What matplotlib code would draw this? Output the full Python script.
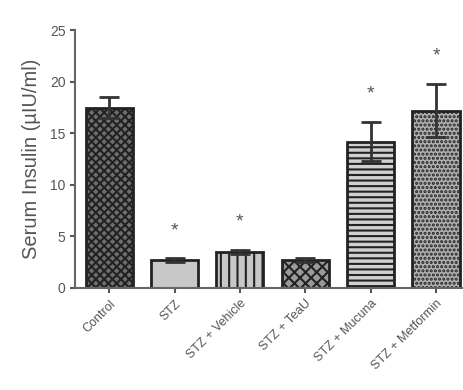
import numpy as np
import matplotlib.pyplot as plt

plt.rcParams['font.family'] = ['Liberation Sans', 'DejaVu Sans']
plt.rcParams['hatch.linewidth'] = 1.5

groups = ['Control', 'STZ', 'STZ + Vehicle', 'STZ + TeaU', 'STZ + Mucuna', 'STZ + Metformin']
insulin = [17.5, 2.7, 3.5, 2.7, 14.2, 17.2]
sem = [1.0, 0.15, 0.2, 0.15, 1.9, 2.6]
marked = [False, True, True, False, True, True]

fills = ['#6e6e6e', '#c8c8c8', '#c8c8c8', '#9a9a9a', '#d0d0d0', '#b0b0b0']
hatches = ['xxxx', '', '||', 'xxx', '---', '....']

fig = plt.figure(figsize=(4.64, 3.9), dpi=100)
ax = fig.add_axes([0.162, 0.262, 0.834, 0.66])

x = np.arange(len(groups))
bars = ax.bar(x, insulin, width=0.72, color=fills, edgecolor='#222222', linewidth=2)
for b, h in zip(bars, hatches):
    b.set_hatch(h)

ax.errorbar(x, insulin, yerr=sem, fmt='none', ecolor='#333333', elinewidth=2,
            capsize=7, capthick=2)

for xi, v, e, m in zip(x, insulin, sem, marked):
    if m:
        ax.text(xi, v + e + 2.7, '*', ha='center', va='center', fontsize=14, color='#555555')

ax.set_xlim(-0.52, 5.4)
ax.set_ylim(0, 25)
ax.set_yticks([0, 5, 10, 15, 20, 25])
ax.set_xticks(x)
ax.set_xticklabels(groups, rotation=45, ha='right', rotation_mode='anchor', fontsize=9, color='#555555')
ax.tick_params(axis='y', labelsize=10, labelcolor='#555555', color='#555555', width=1.5)
ax.tick_params(axis='x', color='#555555', width=1.5)
ax.set_ylabel('Serum Insulin (µIU/ml)', fontsize=14.5, color='#555555', labelpad=6)

for s in ['top', 'right']:
    ax.spines[s].set_visible(False)
for s in ['left', 'bottom']:
    ax.spines[s].set_color('#666666')
    ax.spines[s].set_linewidth(1.5)

fig.savefig('out.png', dpi=100)
